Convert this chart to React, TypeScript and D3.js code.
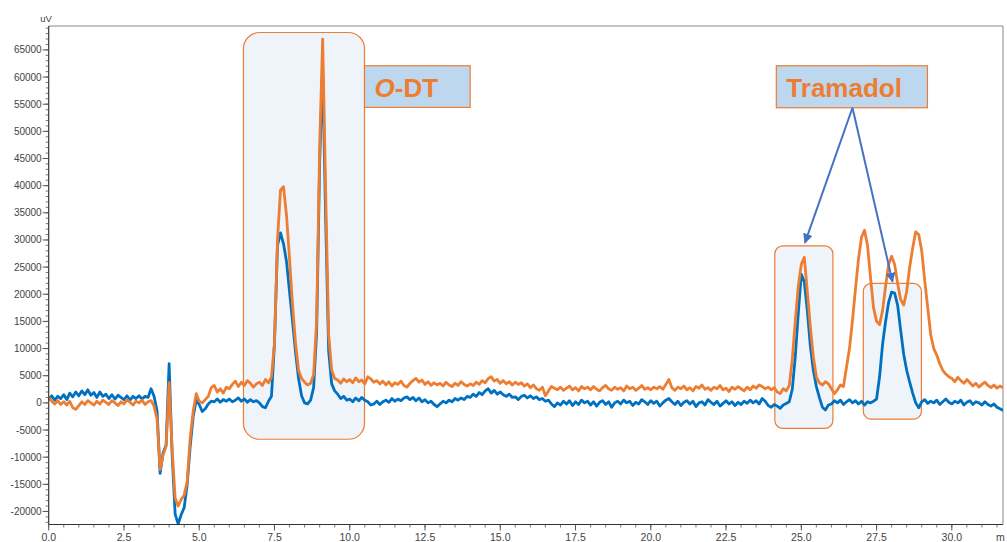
import * as d3 from 'd3';

// detector signal, uV, sampled every 0.1 min from 0.0 min
const T0 = 0;
const DT = 0.1;

const blueTrace = [
  600, 1300, 500, 1200, 800, 1500, 600, 1800, 1100, 2000,
  1300, 2200, 1500, 2400, 1400, 1900, 1000, 2000, 1200, 1600,
  800, 1500, 700, 1400, 1000, 600, 1300, 500, 1200, 800,
  1300, 700, 1200, 1000, 2600, 1200, -1500, -13000, -9200, -7800,
  7200, -9500, -20500, -22300, -20600, -19300, -15000, -8000, -2500, 500,
  -300, -1600, -1100, -200, 300, 200, 700, 100, 600, 300,
  700, 200, 500, 900, 300, 700, 100, 600, 200, 400,
  0, -700, -900, 300, 1200, 11000, 29000, 31300, 29300, 26000,
  20500, 15000, 9300, 4500, 1300, 0, -200, 500, 2800, 13000,
  44000, 62000, 34000, 9500, 3500, 2200, 1600, 800, 1200, 500,
  700, 200, 900, 400, 1000, 500, 200, -400, -200, 300,
  -300, 200, 500, 100, 800, 300, 700, 400, 900, 1100,
  600, 1000, 400, 900, 200, 600, 0, 300, -300, -700,
  -200, 300, 0, 500, 200, 800, 500, 900, 600, 1200,
  1000, 1600, 1200, 1900, 1500, 2200, 2600, 1800, 2300, 1600,
  2000, 1500, 1200, 1600, 1000, 1100, 600, 1200, 1400, 900,
  1300, 800, 1100, 600, 800, 300, 500, -200, -700, 0,
  -400, 300, -200, 400, -500, 200, -300, 500, 0, 300,
  -400, 200, -600, 100, 400, -300, 200, -800, 0, 300,
  -200, 500, 0, 300, -500, 100, -200, 600, 200, -300,
  400, -100, 300, -600, 0, 500, 800, 200, -300, 300,
  -500, 100, 400, -200, 300, -700, 0, 200, -400, 600,
  100, -300, 300, -600, -100, 400, -200, 200, -500, 100,
  -300, 300, -100, 500, 0, 400, -200, 800, 300, -500,
  -800, -300, -600, -1000, -400, -100, 200, 2500, 8500, 16500,
  23700, 22300, 17000, 10500, 6000, 3000, 1000, -800, -1300, -400,
  -200, 400, 0, 500, -300, 200, 600, 0, 400, -200,
  300, -400, 200, 0, 300, 700, 4800, 10800, 15000, 18500,
  20400, 20200, 18000, 13400, 9000, 6000, 3800, 1800, 0, -900,
  200, 600, -100, 300, 0, 500, -300, 200, 700, 100,
  -200, 300, 0, 500, -400, 100, 400, -300, 200, 0,
  -400, 200, -300, -600, -200, -800, -1100, -1400,
];

const orangeTrace = [
  1000, 300, -200, 400, -300, 200, -400, 300, -900, -1200,
  -500, 200, -300, 400, 0, -400, 300, -200, 500, 100,
  -300, 400, 0, -500, 200, -200, 600, 100, -400, 300,
  0, 500, -300, 200, 400, -600, -3000, -12300, -9600, -8000,
  3700, -8500, -17500, -19000, -17800, -17000, -14500, -6500, -1500, 1700,
  300, 0, 600, 1200, 2800, 3200, 2000, 2600, 1800, 2900,
  2600, 3400, 4000, 3000, 3800, 3200, 4100, 3600, 2900, 3500,
  3800, 3200, 4300, 3700, 4800, 11000, 30000, 39200, 39800, 34500,
  26500, 18000, 11000, 6000, 4500, 3800, 3300, 3600, 5200, 15000,
  47000, 67000, 39000, 12500, 6000, 4500, 4200, 3600, 4400, 3900,
  4300, 3700, 4600, 3900, 4200, 3500, 4800, 4400, 3800, 4100,
  3500, 4000, 3300, 3900, 3100, 3700, 3400, 4000, 3200, 2900,
  3600, 4100, 4500, 3800, 4200, 3400, 3900, 3200, 3700, 3300,
  3600, 3100, 3800, 3300, 3000, 3600, 3200, 3900, 3400, 3100,
  3500, 3200, 3800, 3400, 4100, 3700, 4500, 4800, 4000, 4300,
  3600, 4100, 3500, 3900, 3300, 3800, 3400, 3700, 3100, 3500,
  2800, 3300, 2600, 2300, 2900, 1300, 2200, 3000, 2700, 2400,
  2900, 2300, 2700, 3100, 2400, 2800, 2200, 3000, 2600, 2900,
  2400, 3000, 2500, 2200, 2800, 3200, 2600, 2300, 2900, 2500,
  2800, 2200, 3100, 2600, 2900, 2300, 2700, 3200, 2500, 2800,
  2400, 2900, 2600, 3000, 2500, 3400, 4300, 2800, 2300, 2900,
  2600, 3100, 2400, 2800, 2200, 3000, 2700, 3300, 2500, 2800,
  2300, 2900, 2600, 3200, 2400, 2700, 2100, 2900, 2500, 3000,
  2600, 2200, 2900, 2400, 3100, 2700, 3300, 3000, 2600, 2900,
  2400, 2800, 2000, 1700, 2600, 2200, 3200, 8000, 15000, 21500,
  25500, 26800, 20500, 14000, 8500, 4800, 3700, 3300, 3900, 3500,
  2600, 1700, 2400, 3300, 3000, 6500, 10000, 15200, 21000, 26500,
  30500, 31800, 29000, 23000, 17500, 15000, 14400, 17000, 21500, 25500,
  27000, 25500, 22000, 19000, 18000, 20500, 25000, 28500, 31500, 31000,
  28000, 22500, 17500, 12500, 10000, 8800, 7200, 6000, 5300, 4800,
  4500, 3900, 4700, 4100, 3600, 4300, 3700, 3100, 3600, 2900,
  3400, 3800, 3200, 2800, 3300, 2700, 3100, 2800,
];

const xMajor = [0, 2.5, 5, 7.5, 10, 12.5, 15, 17.5, 20, 22.5, 25, 27.5, 30];
const yMajor = [-20000, -15000, -10000, -5000, 0, 5000, 10000, 15000, 20000, 25000, 30000, 35000, 40000, 45000, 50000, 55000, 60000, 65000];

const BLUE = '#0070c0';
const ORANGE = '#ed7d31';
const FONT = '"Liberation Sans", Arial, sans-serif';

const W = 1007;
const H = 542;

const x = d3.scaleLinear().domain([0, 31.7]).range([48.7, 1003]);
const y = d3.scaleLinear().domain([-22400, 69400]).range([524.5, 26]);

const line = d3
  .line<number>()
  .x((_, i) => x(T0 + i * DT))
  .y((d) => y(d));

// highlight boxes, in data units (min, uV)
const peakBoxes = [
  { t0: 6.47, t1: 10.49, v0: -6700, v1: 68200, r: 16 },
  { t0: 24.12, t1: 26.05, v0: -4700, v1: 28900, r: 8 },
  { t0: 27.06, t1: 28.99, v0: -3000, v1: 22000, r: 8 },
];

const App = () => {
  const xMinor = d3.range(0, 31.6, 0.5);
  const yMinor = d3.range(-22000, 69001, 1000);
  const fmtX = d3.format('.1f');
  const left = x(0);
  const right = x(31.7);
  const top = y(69400);
  const bottom = y(-22400);

  const arrowFrom = [x(26.7), y(54340)];
  const arrowTo = [
    [x(25.12), y(29470)],
    [x(28.03), y(22290)],
  ];

  return (
    <svg
      width={W}
      height={H}
      style={{ position: 'absolute', left: 0, top: 0, background: '#fff' }}
      fontFamily={FONT}
    >
      <defs>
        <clipPath id="plot">
          <rect x={left} y={top} width={right - left} height={bottom - top} />
        </clipPath>
        <marker id="head" viewBox="0 0 10 10" refX="9" refY="5" markerWidth="5" markerHeight="5" orient="auto">
          <path d="M0,0 L10,5 L0,10 z" fill="#4472c4" />
        </marker>
      </defs>

      {/* boxes behind the traces */}
      {peakBoxes.map((b, i) => (
        <rect
          key={'bf' + i}
          x={x(b.t0)}
          y={y(b.v1)}
          width={x(b.t1) - x(b.t0)}
          height={y(b.v0) - y(b.v1)}
          rx={b.r}
          fill="#eef4fa"
          stroke={ORANGE}
          strokeWidth={1.2}
        />
      ))}

      {/* frame */}
      <line x1={left} x2={right} y1={top} y2={top} stroke="#888" strokeWidth={1} />
      <line x1={right} x2={right} y1={top} y2={bottom} stroke="#888" strokeWidth={1} />

      <g clipPath="url(#plot)" fill="none" strokeWidth={2.8} strokeLinejoin="round">
        <path d={line(blueTrace) ?? ''} stroke={BLUE} />
        <path d={line(orangeTrace) ?? ''} stroke={ORANGE} />
      </g>

      {/* y axis */}
      <line x1={left} x2={left} y1={top} y2={bottom} stroke="#333" strokeWidth={1.2} />
      {yMinor.map((v) => (
        <line key={'ym' + v} x1={left - 3} x2={left} y1={y(v)} y2={y(v)} stroke="#555" strokeWidth={0.8} />
      ))}
      {yMajor.map((v) => (
        <g key={'y' + v}>
          <line x1={left - 6} x2={left} y1={y(v)} y2={y(v)} stroke="#555" strokeWidth={1} />
          <text x={left - 7} y={y(v)} dy="0.35em" textAnchor="end" fontSize={10} fill="#444">
            {v}
          </text>
        </g>
      ))}
      <text x={46} y={22} textAnchor="middle" fontSize={9.5} fill="#444">uV</text>

      {/* x axis */}
      <line x1={left} x2={right} y1={bottom} y2={bottom} stroke="#333" strokeWidth={1.2} />
      {xMinor.map((t) => (
        <line key={'xm' + t} x1={x(t)} x2={x(t)} y1={bottom} y2={bottom + 3} stroke="#555" strokeWidth={0.8} />
      ))}
      {xMajor.map((t) => (
        <g key={'x' + t}>
          <line x1={x(t)} x2={x(t)} y1={bottom} y2={bottom + 6} stroke="#555" strokeWidth={1} />
          <text x={x(t)} y={541} textAnchor="middle" fontSize={10.5} fill="#444">
            {fmtX(t)}
          </text>
        </g>
      ))}
      <text x={996} y={541} fontSize={10.5} fill="#444">m</text>

      {/* labels */}
      <rect x={x(10.49)} y={y(62080)} width={x(14.0) - x(10.49)} height={y(54410) - y(62080)} fill="#bdd7ee" stroke={ORANGE} strokeWidth={1.2} />
      <text x={x(10.49) + 10} y={y(54410) - 10} fontSize={26} fontWeight="bold" fill={ORANGE}>
        <tspan fontStyle="italic">O</tspan>-DT
      </text>

      <rect x={x(24.17)} y={y(62080)} width={x(29.19) - x(24.17)} height={y(54340) - y(62080)} fill="#bdd7ee" stroke={ORANGE} strokeWidth={1.2} />
      <text x={x(24.17) + 10} y={y(54340) - 11} fontSize={26} fontWeight="bold" fill={ORANGE}>
        Tramadol
      </text>

      {arrowTo.map((p, i) => (
        <line
          key={'a' + i}
          x1={arrowFrom[0]}
          y1={arrowFrom[1]}
          x2={p[0]}
          y2={p[1]}
          stroke="#4472c4"
          strokeWidth={2}
          markerEnd="url(#head)"
        />
      ))}
    </svg>
  );
};

export default App;
